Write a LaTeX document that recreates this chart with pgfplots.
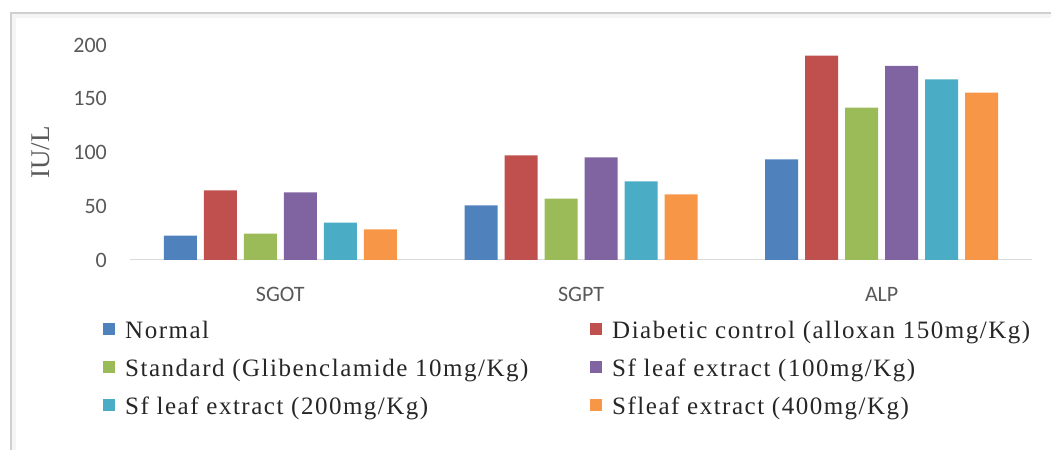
\documentclass[border=0pt]{standalone}
\usepackage{fontspec}
\setmainfont{Liberation Serif}
\newfontfamily\calfont{Carlito}
\newfontfamily\legfont[LetterSpace=6]{Liberation Serif}
\usepackage{pgfplots}
\pgfplotsset{compat=1.18}

\definecolor{cNormal}{HTML}{4F81BD}
\definecolor{cDiab}{HTML}{C0504D}
\definecolor{cStd}{HTML}{9BBB59}
\definecolor{cSfA}{HTML}{8064A2}
\definecolor{cSfB}{HTML}{4BACC6}
\definecolor{cSfC}{HTML}{F79646}
\definecolor{tickgray}{HTML}{595959}
\definecolor{axisgray}{HTML}{D9D9D9}
\definecolor{framegray}{HTML}{D0D0D0}

\begin{document}
\begin{tikzpicture}[x=1bp,y=1bp]
\path[use as bounding box] (0,0) rectangle (1051,450);
% chart area frame with a soft shadow
\draw[color=black!4, line width=4bp] (14,0) -- (14,434) -- (1051,434);
\draw[color=framegray, line width=1.6bp] (11,0) -- (11,437) -- (1051,437);
\begin{axis}[
  at={(130bp,190bp)}, anchor=south west,
  scale only axis, width=902bp, height=215bp,
  xmin=-0.5, xmax=2.5, ymin=0, ymax=200,
  axis line style={draw=none},
  major tick length=0pt,
  xtick={0,1,2}, xticklabels={SGOT,SGPT,ALP},
  ytick={0,50,100,150,200},
  /pgf/number format/assume math mode=true,
  ticklabel style={font=\calfont\fontsize{22bp}{26bp}\selectfont, text=tickgray},
  yticklabel style={anchor=east, inner sep=0pt, xshift=-23bp},
  xticklabel style={anchor=north, inner sep=0pt, yshift=-27bp},
  ylabel={IU/L},
  ylabel style={at={(axis description cs:-0.0987,0.5)}, anchor=center,
    font=\fontsize{27bp}{30bp}\selectfont, text=tickgray},
  bar width=33bp,
  legend columns=2,
  legend cell align=left,
  legend image code/.code={\fill[#1] (0bp,3bp) rectangle (12bp,15bp);},
  legend style={at={(axis description cs:-0.0299,-0.2837)}, anchor=north west,
    draw=none, fill=none, inner sep=0pt, row sep=15bp,
    font=\legfont\fontsize{25bp}{28bp}\selectfont, text=black!85,
    cells={anchor=base west},
    nodes={inner sep=0pt, text height=17bp, text depth=6bp},
    /tikz/every odd column/.append style={column sep=10bp},
    /tikz/every even column/.append style={column sep=0bp}},
]
\draw[color=axisgray, line width=2bp] (axis cs:-0.5,0) -- (axis cs:2.5,0);

\addplot[ybar, bar shift=-100bp, fill=cNormal, draw=none]
  coordinates {(0,22.6) (1,50.9) (2,93.7)};
\addlegendentry{\makebox[465bp][l]{Normal}}
\addplot[ybar, bar shift=-60bp, fill=cDiab, draw=none]
  coordinates {(0,64.8) (1,97.4) (2,190.0)};
\addlegendentry{Diabetic control (alloxan 150mg/Kg)}
\addplot[ybar, bar shift=-20bp, fill=cStd, draw=none]
  coordinates {(0,24.5) (1,57.0) (2,141.7)};
\addlegendentry{\makebox[465bp][l]{Standard (Glibenclamide 10mg/Kg)}}
\addplot[ybar, bar shift=20bp, fill=cSfA, draw=none]
  coordinates {(0,63.0) (1,95.5) (2,180.5)};
\addlegendentry{Sf leaf extract (100mg/Kg)}
\addplot[ybar, bar shift=60bp, fill=cSfB, draw=none]
  coordinates {(0,34.7) (1,73.2) (2,168.0)};
\addlegendentry{\makebox[465bp][l]{Sf leaf extract (200mg/Kg)}}
\addplot[ybar, bar shift=100bp, fill=cSfC, draw=none]
  coordinates {(0,28.5) (1,61.1) (2,155.6)};
\addlegendentry{Sfleaf extract (400mg/Kg)}
\end{axis}
\end{tikzpicture}
\end{document}
